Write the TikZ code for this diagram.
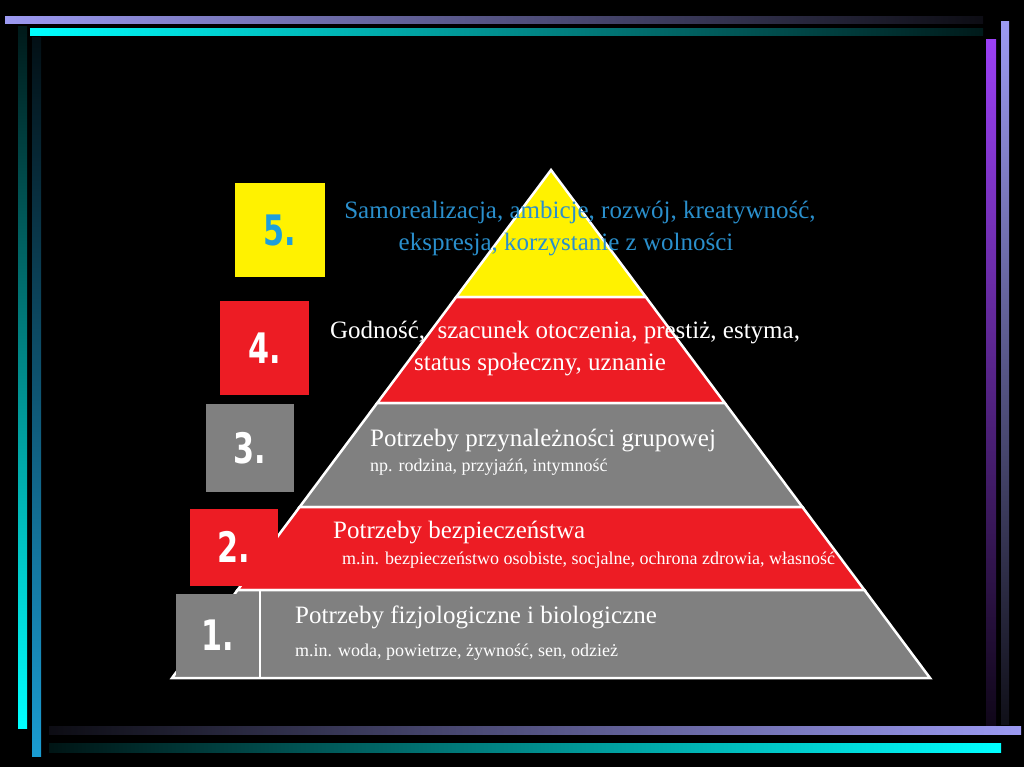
\documentclass[tikz,border=0pt]{standalone}
\usepackage{fontspec}
\setmainfont{Liberation Serif}
\newfontfamily\numfont{DejaVu Sans}[FakeStretch=0.72]

\definecolor{pyryellow}{HTML}{FFF200}
\definecolor{pyrred}{HTML}{ED1C24}
\definecolor{pyrgrey}{HTML}{808080}
\definecolor{txtblue}{HTML}{2A8FCC}
\definecolor{numblue}{HTML}{1E9FDB}
\definecolor{lav}{HTML}{9C9AF2}
\definecolor{aqua}{HTML}{00FFFF}
\definecolor{violetbar}{HTML}{9B40F5}
\definecolor{skyblue}{HTML}{1A9CD2}

\tikzset{
  band/.style={draw=white, line width=2.5pt, line join=miter},
  numbox/.style={inner sep=0pt, font=\numfont\bfseries\fontsize{42}{42}\selectfont, text=white},
  bigtxt/.style={font=\fontsize{25}{25}\selectfont, text=white, inner sep=0pt},
  smalltxt/.style={font=\fontsize{18}{18}\selectfont, text=white, inner sep=0pt}
}

\begin{document}
\begin{tikzpicture}[x=1pt,y=-1pt]
  \fill[black] (0,0) rectangle (1024,767);
  \useasboundingbox (0,0) rectangle (1024,767);

  % frame bars
  \shade[left color=lav, right color=lav!8!black] (5,17) rectangle (983,24);
  \shade[left color=aqua, right color=aqua!10!black] (30,29) rectangle (983,36);
  \shade[top color=aqua!10!black, bottom color=aqua] (18,27) rectangle (27,728);
  \shade[top color=skyblue!10!black, bottom color=skyblue] (32,38) rectangle (41,756);
  \shade[top color=violetbar, bottom color=violetbar!10!black] (986,40) rectangle (996,725);
  \shade[top color=lav, bottom color=lav!10!black] (1001,22) rectangle (1009,724);
  \shade[left color=lav!8!black, right color=lav] (49,726) rectangle (1021,734);
  \shade[left color=aqua!8!black, right color=aqua] (49,743) rectangle (1001,752);

  % pyramid
  \coordinate (apex) at (551,170);
  \filldraw[band, fill=pyryellow] (apex) -- (645.8,297) -- (456.2,297) -- cycle;
  \filldraw[band, fill=pyrred] (456.2,297) -- (645.8,297) -- (724.8,403) -- (377.2,403) -- cycle;
  \filldraw[band, fill=pyrgrey] (377.2,403) -- (724.8,403) -- (802.4,507) -- (299.6,507) -- cycle;
  \filldraw[band, fill=pyrred] (299.6,507) -- (802.4,507) -- (864.4,590) -- (237.6,590) -- cycle;
  \filldraw[band, fill=pyrgrey] (237.6,590) -- (864.4,590) -- (930,678) -- (172,678) -- cycle;

  % number boxes
  \node[numbox, fill=pyryellow, minimum width=90pt, minimum height=94pt, text=numblue] (n5) at (280,230) {5.};
  \node[numbox, fill=pyrred, minimum width=89pt, minimum height=94pt] (n4) at (264.5,348) {4.};
  \node[numbox, fill=pyrgrey, minimum width=88pt, minimum height=88pt] (n3) at (250,448) {3.};
  \node[numbox, fill=pyrred, minimum width=88pt, minimum height=77pt] (n2) at (234,547) {2.};
  \node[numbox, fill=pyrgrey, minimum width=84pt, minimum height=82pt] (n1) at (218,635) {1.};
  \draw[white, line width=2.5pt] (n1.north east |- 0,590) -- (n1.north east |- 0,678);

  % texts
  \node[bigtxt, text=txtblue] (l5a) at (580,213) {Samorealizacja, ambicje, rozwój, kreatywność,};
  \node[bigtxt, text=txtblue] (l5b) at (566,245) {ekspresja, korzystanie z wolności};
  \node[bigtxt] (l4a) at (565,333) {Godność,~~szacunek otoczenia, prestiż, estyma,};
  \node[bigtxt] (l4b) at (540,365) {status społeczny, uznanie};
  \node[bigtxt, anchor=west] (l3a) at (370,441) {Potrzeby przynależności grupowej};
  \node[smalltxt, anchor=west] (l3b) at (370,467) {np. rodzina, przyjaźń, intymność};
  \node[bigtxt, anchor=west] (l2a) at (333,533) {Potrzeby bezpieczeństwa};
  \node[smalltxt, anchor=west] (l2b) at (342,560) {m.in. bezpieczeństwo osobiste, socjalne, ochrona zdrowia, własność};
  \node[bigtxt, anchor=west] (l1a) at (295,617) {Potrzeby fizjologiczne i biologiczne};
  \node[smalltxt, anchor=west] (l1b) at (295,652) {m.in. woda, powietrze, żywność, sen, odzież};
\end{tikzpicture}
\end{document}
